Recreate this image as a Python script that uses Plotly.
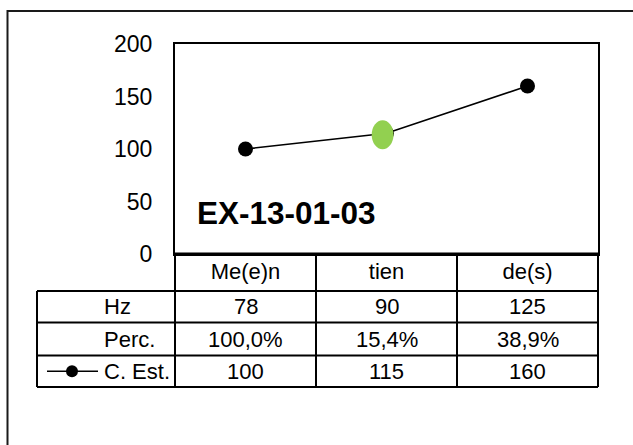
import plotly.graph_objects as go

# ---- data ----
categories = ["Me(e)n", "tien", "de(s)"]
hz_values = [78, 90, 125]
perc_values = [100.0, 15.4, 38.9]
c_est_values = [100, 115, 160]
highlight_category = "tien"
chart_label = "EX-13-01-03"
row_labels = ["Hz", "Perc.", "C. Est."]
y_ticks = [0, 50, 100, 150, 200]

# ---- layout geometry (pixels) ----
W, H = 633, 445
L, R, T, B = 175, 35, 44, 191
PW, PH = W - L - R, H - T - B
FONT = "Liberation Sans, Arial, sans-serif"

def px_to_py(py):
    """figure pixel y -> paper y"""
    return (T + PH - py) / PH

def px_to_px(px):
    """figure pixel x -> paper x"""
    return (px - L) / PW

row_edges_px = [254, 291, 322.5, 355.5, 387]
table_left_px = 37
label_left_px = 102

fig = go.Figure()
fig.add_trace(go.Scatter(
    x=categories, y=c_est_values, mode="lines+markers",
    line=dict(color="black", width=1.6),
    marker=dict(color="black", size=15),
    showlegend=False, hoverinfo="skip"))

shapes = []
LC = "black"
# outer frame
shapes.append(dict(type="rect", xref="paper", yref="paper",
                   x0=px_to_px(7.5), x1=px_to_px(700), y0=px_to_py(500), y1=px_to_py(11),
                   line=dict(color="#1a1a1a", width=2), layer="below"))
# bottom of plot (thicker)
shapes.append(dict(type="line", xref="paper", yref="paper", x0=0, x1=1,
                   y0=0, y1=0, line=dict(color=LC, width=3)))
# horizontal table lines
for py in row_edges_px[1:]:
    shapes.append(dict(type="line", xref="paper", yref="paper",
                       x0=px_to_px(table_left_px), x1=1, y0=px_to_py(py), y1=px_to_py(py),
                       line=dict(color=LC, width=2)))
# vertical lines: plot left/right extended, category boundaries
for xp in [0, 1]:
    shapes.append(dict(type="line", xref="paper", yref="paper", x0=xp, x1=xp,
                       y0=px_to_py(row_edges_px[-1]), y1=0, line=dict(color=LC, width=2)))
for i in range(len(categories) - 1):
    shapes.append(dict(type="line", xref="x", yref="paper", x0=i + 0.5, x1=i + 0.5,
                       y0=px_to_py(row_edges_px[-1]), y1=0, line=dict(color=LC, width=2)))
shapes.append(dict(type="line", xref="paper", yref="paper",
                   x0=px_to_px(table_left_px), x1=px_to_px(table_left_px),
                   y0=px_to_py(row_edges_px[-1]), y1=px_to_py(row_edges_px[1]),
                   line=dict(color=LC, width=2)))
# legend key for C. Est.
key_y = px_to_py((row_edges_px[3] + row_edges_px[4]) / 2)
shapes.append(dict(type="line", xref="paper", yref="paper",
                   x0=px_to_px(47), x1=px_to_px(98), y0=key_y, y1=key_y,
                   line=dict(color=LC, width=1.6)))
shapes.append(dict(type="circle", xref="paper", yref="paper",
                   xsizemode="pixel", ysizemode="pixel",
                   xanchor=px_to_px(72), yanchor=key_y,
                   x0=-6, x1=6, y0=-6, y1=6, fillcolor="black", line=dict(width=0)))
# highlighted point (green ellipse)
hi = categories.index(highlight_category)
shapes.append(dict(type="circle", xref="x", yref="y",
                   xsizemode="pixel", ysizemode="pixel",
                   xanchor=hi, yanchor=c_est_values[hi],
                   x0=-14.8, x1=7, y0=-16, y1=13,
                   fillcolor="#92D050", line=dict(width=0), layer="above"))

annotations = []
# chart label
annotations.append(dict(text="<b>%s</b>" % chart_label, xref="paper", yref="paper",
                        x=px_to_px(195), y=px_to_py(213), xanchor="left", yanchor="middle",
                        showarrow=False, font=dict(family=FONT, size=31.5, color="black")))
# table rows
def fmt_pct(v):
    return ("%.1f%%" % v).replace(".", ",")

rows = [[str(v) for v in hz_values],
        [fmt_pct(v) for v in perc_values],
        [str(v) for v in c_est_values]]
for r, (label, vals) in enumerate(zip(row_labels, rows)):
    yc = px_to_py((row_edges_px[r + 1] + row_edges_px[r + 2]) / 2)
    annotations.append(dict(text=label, xref="paper", yref="paper",
                            x=px_to_px(label_left_px), y=yc, xanchor="left", yanchor="middle",
                            showarrow=False, font=dict(family=FONT, size=22, color="black")))
    for c, v in zip(categories, vals):
        annotations.append(dict(text=v, xref="x", yref="paper", x=c, y=yc,
                                xanchor="center", yanchor="middle", showarrow=False,
                                font=dict(family=FONT, size=22, color="black")))

fig.update_layout(
    width=W, height=H, margin=dict(l=L, r=R, t=T, b=B, pad=0),
    paper_bgcolor="white", plot_bgcolor="white",
    font=dict(family=FONT, color="black"),
    shapes=shapes, annotations=annotations, showlegend=False,
    xaxis=dict(type="category", range=[-0.5, len(categories) - 0.5],
               showgrid=False, zeroline=False, showline=True, linecolor="black",
               linewidth=2, mirror=True, ticks="", ticklabelstandoff=-3,
               tickfont=dict(family=FONT, size=22, color="black")),
    yaxis=dict(range=[0, 200], tickvals=y_ticks, showgrid=False, zeroline=False,
               showline=True, linecolor="black", linewidth=2, mirror=True,
               ticks="", ticklabelstandoff=16,
               tickfont=dict(family=FONT, size=23, color="black")),
)

fig.write_html("out.html", config={"displayModeBar": False, "staticPlot": True},
               post_script="document.body.style.margin='0';document.body.style.overflow='hidden';")
